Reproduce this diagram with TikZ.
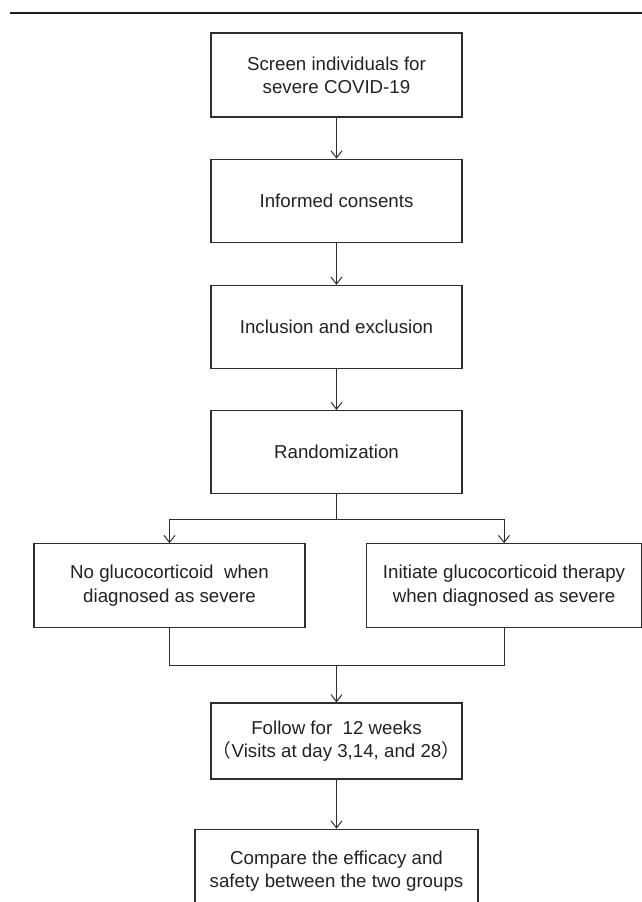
\documentclass[tikz,border=0pt]{standalone}
\usepackage{fontspec}
\setmainfont{Liberation Sans}
\newfontfamily\cjk{Noto Sans CJK SC}
\usepackage{xcolor}
\usepackage{tikz}
\usetikzlibrary{arrows.meta, positioning, calc}
\definecolor{rulegray}{HTML}{1E1E1E}
\definecolor{boxline}{HTML}{2E2E2E}
\definecolor{textdark}{HTML}{222222}

\begin{document}
\begin{tikzpicture}[x=1pt, y=-1pt, font=\fontsize{18.7}{23.3}\selectfont, node distance=41pt,
    box/.style={rectangle, draw=boxline, line width=1.2pt, text=textdark,
      minimum width=251pt, minimum height=83pt, inner sep=0pt, align=center},
    conn/.style={-{Straight Barb[length=7pt, width=11pt]}, line width=1pt, boxline},
    wire/.style={line width=1pt, boxline}]

    \useasboundingbox (0,0) rectangle (642,902);

    % rule at the top
    \draw[rulegray, line width=2.6pt] (10,13) -- (642,13);

    % main column
    \node (screen) [box, minimum height=84pt] at (336.5,75) {Screen individuals for\\severe COVID-19};
    \node (consent) [box, below=41pt of screen] {Informed consents};
    \node (incl) [box, below=42pt of consent] {Inclusion and exclusion};
    \node (rand) [box, below=41pt of incl] {Randomization};

    % two arms
    \node (noglu) [box, minimum width=271pt, minimum height=84pt, below=49pt of rand, xshift=-167pt]
      {No glucocorticoid~ when\\diagnosed as severe};
    \node (initg) [box, minimum width=275pt, minimum height=84pt, below=49pt of rand, xshift=167.5pt]
      {Initiate glucocorticoid therapy\\when diagnosed as severe};

    % follow-up and comparison
    \node (follow) [box, minimum height=76pt, below=74pt of rand.south |- noglu.south]
      {Follow for~ 12 weeks\\{\cjk （}Visits at day 3,14, and 28{\cjk ）}};
    \node (compare) [box, minimum width=283pt, minimum height=84pt, below=49pt of follow]
      {Compare the efficacy and\\safety between the two groups};

    % Connections
    \draw[conn] (screen) -- (consent);
    \draw[conn] (consent) -- (incl);
    \draw[conn] (incl) -- (rand);

    \coordinate (split) at ($(rand.south)+(0,25)$);
    \draw[wire] (rand.south) -- (split);
    \draw[conn] (split) -| (noglu.north);
    \draw[conn] (split) -| (initg.north);

    \coordinate (merge) at ($(follow.north)+(0,-37)$);
    \draw[wire] (noglu.south) |- (merge) -| (initg.south);
    \draw[conn] (merge) -- (follow);
    \draw[conn] (follow) -- (compare);
\end{tikzpicture}
\end{document}
